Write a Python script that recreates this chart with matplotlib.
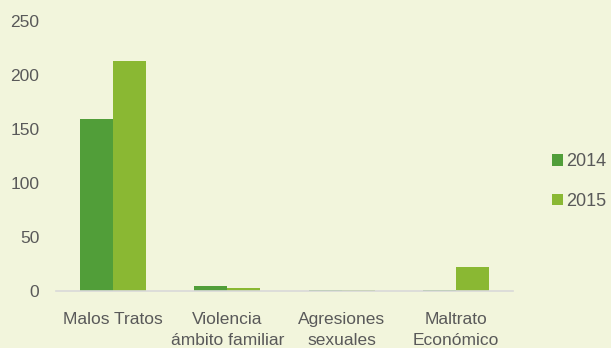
import numpy as np
import matplotlib.pyplot as plt

categories = ['Malos Tratos', 'Violencia\námbito familiar', 'Agresiones\nsexuales', 'Maltrato\nEconómico']
years = ['2014', '2015']
values_2014 = [159, 5, 1, 1]
values_2015 = [213, 3, 1, 22]
yticks = [0, 50, 100, 150, 200, 250]

bg = '#F2F5DC'
c2014 = '#519E39'
c2015 = '#8AB833'
txt = '#595959'

plt.rcParams['font.family'] = ['Liberation Sans', 'DejaVu Sans']

fig = plt.figure(figsize=(6.11, 3.48), dpi=100, facecolor=bg)
ax = fig.add_axes([0.0917, 0.1638, 0.8396 - 0.0917, 0.9397 - 0.1638], facecolor=bg)

x = np.arange(len(categories))
w = 0.289
ax.bar(x - w / 2, values_2014, w, color=c2014, label=years[0])
ax.bar(x + w / 2, values_2015, w, color=c2015, label=years[1])

ax.set_xlim(-0.5, 3.5)
ax.set_ylim(0, 250)
ax.set_yticks(yticks)
ax.set_xticks(x)
ax.set_xticklabels(categories, linespacing=1.5)
ax.tick_params(axis='both', length=0, labelsize=12.5, colors=txt)
ax.tick_params(axis='y', pad=12)
ax.tick_params(axis='x', pad=15)
for s in ['top', 'right', 'left']:
    ax.spines[s].set_visible(False)
ax.spines['bottom'].set_color('#D9D9D9')
ax.spines['bottom'].set_linewidth(1.2)

fig.legend(loc='center left', bbox_to_anchor=(0.903, 0.478), frameon=False,
           fontsize=13, labelcolor=txt, handlelength=0.6, handleheight=0.6,
           handletextpad=0.2, labelspacing=1.25, borderpad=0, borderaxespad=0)

fig.savefig('out.png', dpi=100, facecolor=bg)
